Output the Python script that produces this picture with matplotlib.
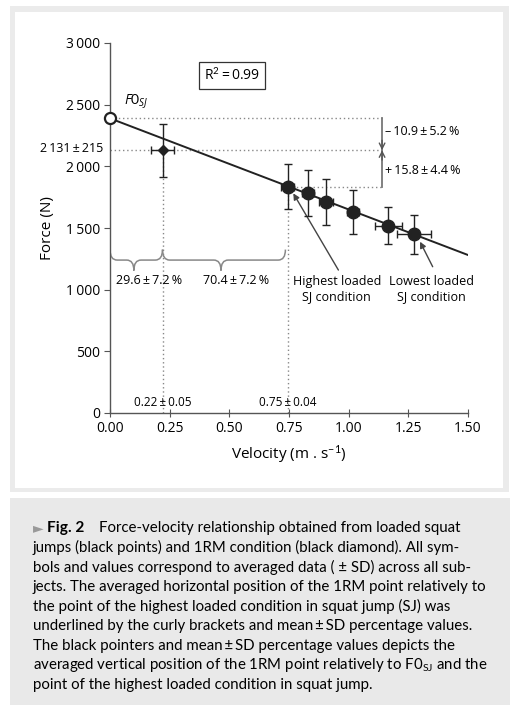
import matplotlib
matplotlib.use("Agg")
import matplotlib.pyplot as plt
from matplotlib.patches import Rectangle, PathPatch
from matplotlib.path import Path

plt.rcParams['font.family'] = ['Open Sans', 'DejaVu Sans']
plt.rcParams['mathtext.fontset'] = 'custom'
plt.rcParams['mathtext.rm'] = 'Open Sans'
plt.rcParams['mathtext.it'] = 'Open Sans:italic'
plt.rcParams['mathtext.bf'] = 'Open Sans:bold'

# data
sj_v = [0.745, 0.828, 0.904, 1.017, 1.166, 1.274]
sj_f = [1835, 1781, 1713, 1627, 1519, 1449]
sj_f_sd = [180, 186, 185, 178, 151, 160]
sj_v_sd = [0.028, 0.025, 0.030, 0.025, 0.057, 0.071]

rm_v, rm_v_sd = 0.22, 0.05
rm_f, rm_f_sd = 2131, 215

f0 = 2389
line_v = [0.0, 1.5]
line_f = [2389, 1281]

x_ticks = [0.00, 0.25, 0.50, 0.75, 1.00, 1.25, 1.50]
y_ticks = [0, 500, 1000, 1500, 2000, 2500, 3000]
y_tick_labels = ['0', '500', '1\u2009000', '1\u2009500', '2\u2009000', '2\u2009500', '3\u2009000']

bracket_v = 1.14

caption = [
    "jumps (black points) and 1RM condition (black diamond). All sym-",
    "bols and values correspond to averaged data ( \u00b1 SD) across all sub-",
    "jects. The averaged horizontal position of the 1RM point relatively to",
    "the point of the highest loaded condition in squat jump (SJ) was",
    "underlined by the curly brackets and mean\u2009\u00b1\u2009SD percentage values.",
    "The black pointers and mean\u2009\u00b1\u2009SD percentage values depicts the",
    "averaged vertical position of the 1RM point relatively to F0$_{\\mathrm{SJ}}$ and the",
    "point of the highest loaded condition in squat jump.",
]

W, H = 515, 721
fig = plt.figure(figsize=(W / 100, H / 100), dpi=100)
fig.patch.set_facecolor('white')


def frect(x0, y0, x1, y1, color):
    fig.add_artist(Rectangle((x0 / W, 1 - y1 / H), (x1 - x0) / W, (y1 - y0) / H,
                             transform=fig.transFigure, color=color, lw=0, zorder=-10))


# panel frame and caption box
frect(10, 6, 509, 492, '#ebebeb')
frect(15, 12, 503, 488, 'white')
frect(10, 498, 510, 705, '#e9e9e9')

ax = fig.add_axes([110 / W, 1 - 413 / H, 358 / W, 370 / H])
ax.set_xlim(0, 1.5)
ax.set_ylim(0, 3000)
for s in ['top', 'right']:
    ax.spines[s].set_visible(False)
for s in ['left', 'bottom']:
    ax.spines[s].set_color('#555555')
    ax.spines[s].set_linewidth(1.0)
ax.set_xticks(x_ticks)
ax.set_xticklabels([f"{t:.2f}" for t in x_ticks])
ax.set_yticks(y_ticks)
ax.set_yticklabels(y_tick_labels)
ax.tick_params(axis='x', direction='inout', length=6, color='#555555', labelsize=10, pad=3)
ax.tick_params(axis='y', direction='out', length=4, color='#555555', labelsize=10, pad=3)
ax.set_xlabel('Velocity (m . s$^{-1}$)', fontsize=11, labelpad=5)
ax.set_ylabel('Force (N)', fontsize=11, labelpad=8)

dot = dict(color='#888888', lw=1.0, ls=(0, (1, 2)), zorder=1)
ax.plot([0, bracket_v], [f0, f0], **dot)
ax.plot([0, bracket_v], [rm_f, rm_f], **dot)
ax.plot([sj_v[0], bracket_v], [sj_f[0], sj_f[0]], **dot)
ax.plot([rm_v, rm_v], [0, rm_f], **dot)
ax.plot([sj_v[0], sj_v[0]], [0, sj_f[0]], **dot)

# regression line
ax.plot(line_v, line_f, color='#222222', lw=1.4, zorder=3)

ax.errorbar(sj_v, sj_f, yerr=sj_f_sd, xerr=sj_v_sd, fmt='o', color='#222222',
            ms=9, elinewidth=1.0, capsize=3, capthick=1.0, zorder=4)
ax.errorbar([rm_v], [rm_f], yerr=[rm_f_sd], xerr=[rm_v_sd], fmt='D', color='#222222',
            ms=5.5, elinewidth=1.0, capsize=3, capthick=1.0, zorder=4)
ax.plot([0], [f0], 'o', ms=8, mfc='white', mec='#222222', mew=1.6, clip_on=False, zorder=5)

# vertical bracket with arrows
ax.plot([bracket_v, bracket_v], [f0, sj_f[0]], color='#777777', lw=1.3, zorder=2)
arr = dict(arrowstyle='->', color='#555555', lw=1.0, mutation_scale=10,
           shrinkA=0, shrinkB=0)
ax.annotate('', xy=(bracket_v, rm_f), xytext=(bracket_v, rm_f + 80), arrowprops=arr)
ax.annotate('', xy=(bracket_v, rm_f), xytext=(bracket_v, rm_f - 80), arrowprops=arr)
ax.text(bracket_v + 0.012, 2281, '\u2013\u200910.9\u2009\u00b1\u20095.2\u2009%', fontsize=9,
        va='center', ha='left')
ax.text(bracket_v + 0.012, 1970, '+\u200915.8\u2009\u00b1\u20094.4\u2009%', fontsize=9,
        va='center', ha='left')


# curly braces under the line
def brace(x0, xm, x1, y, h, w=0.03):
    verts = [(x0, y + h), (x0, y), (x0 + w, y), (xm - w, y), (xm, y), (xm, y - h),
             (xm, y), (xm + w, y), (x1 - w, y), (x1, y), (x1, y + h)]
    codes = [Path.MOVETO, Path.CURVE3, Path.CURVE3, Path.LINETO, Path.CURVE3, Path.CURVE3,
             Path.CURVE3, Path.CURVE3, Path.LINETO, Path.CURVE3, Path.CURVE3]
    ax.add_patch(PathPatch(Path(verts, codes), fill=False, ec='#888888', lw=1.1, zorder=2))


brace(0.0, 0.10, rm_v, 1240, 85)
brace(rm_v, 0.465, 0.735, 1240, 85)
ax.text(0.163, 1078, '29.6\u2009\u00b1\u20097.2\u2009%', fontsize=9, ha='center', va='center')
ax.text(0.53, 1078, '70.4\u2009\u00b1\u20097.2\u2009%', fontsize=9, ha='center', va='center')

ax.text(rm_v, 30, '0.22\u2009\u00b1\u20090.05', fontsize=8.5, ha='center', va='bottom')
ax.text(sj_v[0], 30, '0.75\u2009\u00b1\u20090.04', fontsize=8.5, ha='center', va='bottom')
ax.text(-0.03, rm_f + 15, '2\u2009131\u2009\u00b1\u2009215', fontsize=9, ha='right', va='center',
        clip_on=False)
ax.text(0.06, 2520, '$\\mathit{F0}_{\\mathit{SJ}}$', fontsize=10, ha='left', va='center')
ax.text(0.51, 2736, 'R$^2$\u2009=\u20090.99', fontsize=10, ha='center', va='center',
        bbox=dict(boxstyle='square,pad=0.35', fc='white', ec='#333333', lw=0.9))

pointer = dict(arrowstyle='-|>', color='#444444', lw=1.0, mutation_scale=9,
               shrinkA=0, shrinkB=0)
ax.annotate('', xy=(0.768, 1781), xytext=(0.957, 1159), arrowprops=pointer)
ax.annotate('', xy=(1.299, 1389), xytext=(1.352, 1186), arrowprops=pointer)
ax.text(0.95, 1005, 'Highest loaded\nSJ condition', fontsize=9, ha='center', va='center',
        linespacing=1.25)
ax.text(1.348, 1005, 'Lowest loaded\nSJ condition', fontsize=9, ha='center', va='center',
        linespacing=1.25)

# caption
cap_font = ['Lato', 'DejaVu Sans']
cap_size = 10.8
y0 = 528
fig.text(33 / W, 1 - y0 / H, '\u25ba', fontsize=10, color='#999999', va='center',
         family=['DejaVu Sans'])
fig.text(47 / W, 1 - y0 / H, 'Fig. 2', fontsize=cap_size + 0.3, weight='bold', va='center',
         family=cap_font)
fig.text(99 / W, 1 - y0 / H, 'Force-velocity relationship obtained from loaded squat',
         fontsize=cap_size, va='center', family=cap_font)
plt.rcParams['mathtext.rm'] = 'Lato'
for i, line in enumerate(caption):
    fig.text(33 / W, 1 - (y0 + 19.6 * (i + 1)) / H, line, fontsize=cap_size, va='center',
             family=cap_font)

fig.savefig('out.png', dpi=100)
